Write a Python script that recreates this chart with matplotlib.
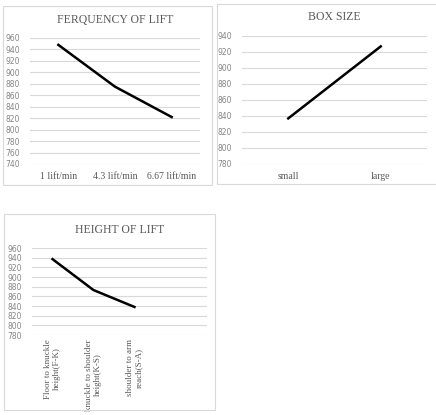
import matplotlib
matplotlib.use('Agg')
import matplotlib.pyplot as plt
from matplotlib.patches import Rectangle

plt.rcParams['font.family'] = ['Liberation Serif', 'DejaVu Serif']

freq_labels = ['1 lift/min', '4.3 lift/min', '6.67 lift/min']
freq_values = [948, 875, 822]
freq_ticks = list(range(740, 961, 20))

box_labels = ['small', 'large']
box_values = [837, 927]
box_ticks = list(range(780, 941, 20))

height_labels = ['Floor to knuckle\nheight(F-K)', 'knuckle to shoulder\nheight(K-S)',
                 'shoulder to arm\nreach(S-A)']
height_values = [937, 873, 838]
height_ticks = list(range(780, 961, 20))

W, H = 436, 415
fig = plt.figure(figsize=(W / 100, H / 100), dpi=100)


def px_axes(x0, y0, x1, y1):
    return fig.add_axes([x0 / W, 1 - y1 / H, (x1 - x0) / W, (y1 - y0) / H])


def px_box(x0, y0, x1, y1):
    fig.add_artist(Rectangle((x0 / W, 1 - y1 / H), (x1 - x0) / W, (y1 - y0) / H,
                             transform=fig.transFigure, fill=False,
                             edgecolor='#d9d9d9', linewidth=0.8))


def style(ax, ticks, title, title_y):
    ax.set_ylim(ticks[0], ticks[-1])
    ax.set_yticks(ticks)
    ax.grid(axis='y', color='#d9d9d9', linewidth=0.8)
    ax.set_axisbelow(True)
    for s in ax.spines.values():
        s.set_visible(False)
    ax.tick_params(axis='both', length=0)
    ax.tick_params(axis='y', pad=7, labelsize=5.5, colors='#858585')
    ax.tick_params(axis='x', pad=6, labelsize=7, colors='#595959')
    for t in ax.get_yticklabels():
        t.set_family('DejaVu Sans')
    fig.text(ax.get_position().x0 + ax.get_position().width / 2, 1 - title_y / H, title,
             ha='center', va='center', fontsize=8.5, color='#595959')


# panel 1
px_box(3, 6, 212, 185)
ax1 = px_axes(30, 38, 200, 164)
x = list(range(len(freq_values)))
ax1.plot(x, freq_values, color='black', linewidth=1.8)
ax1.set_xlim(-0.5, len(freq_values) - 0.5)
ax1.set_xticks(x)
ax1.set_xticklabels(freq_labels)
style(ax1, freq_ticks, 'FERQUENCY OF LIFT', 20)

# panel 2
px_box(217, 4, 437, 184)
ax2 = px_axes(242, 36, 427, 164)
x = list(range(len(box_values)))
ax2.plot(x, box_values, color='black', linewidth=1.8)
ax2.set_xlim(-0.5, len(box_values) - 0.5)
ax2.set_xticks(x)
ax2.set_xticklabels(box_labels)
style(ax2, box_ticks, 'BOX SIZE', 17)

# panel 3
px_box(4, 214, 215, 410)
ax3 = px_axes(32, 248, 207, 335)
x = list(range(len(height_values)))
ax3.plot(x, height_values, color='black', linewidth=1.8)
ax3.set_xlim(-0.5, 3.77)
ax3.set_xticks(x)
ax3.set_xticklabels(height_labels, rotation=90, va='top', ha='center',
                    linespacing=1.0)
style(ax3, height_ticks, 'HEIGHT OF LIFT', 230)
ax3.tick_params(axis='x', pad=3, labelsize=6.5)

fig.savefig('out.png', dpi=100, facecolor='white')
